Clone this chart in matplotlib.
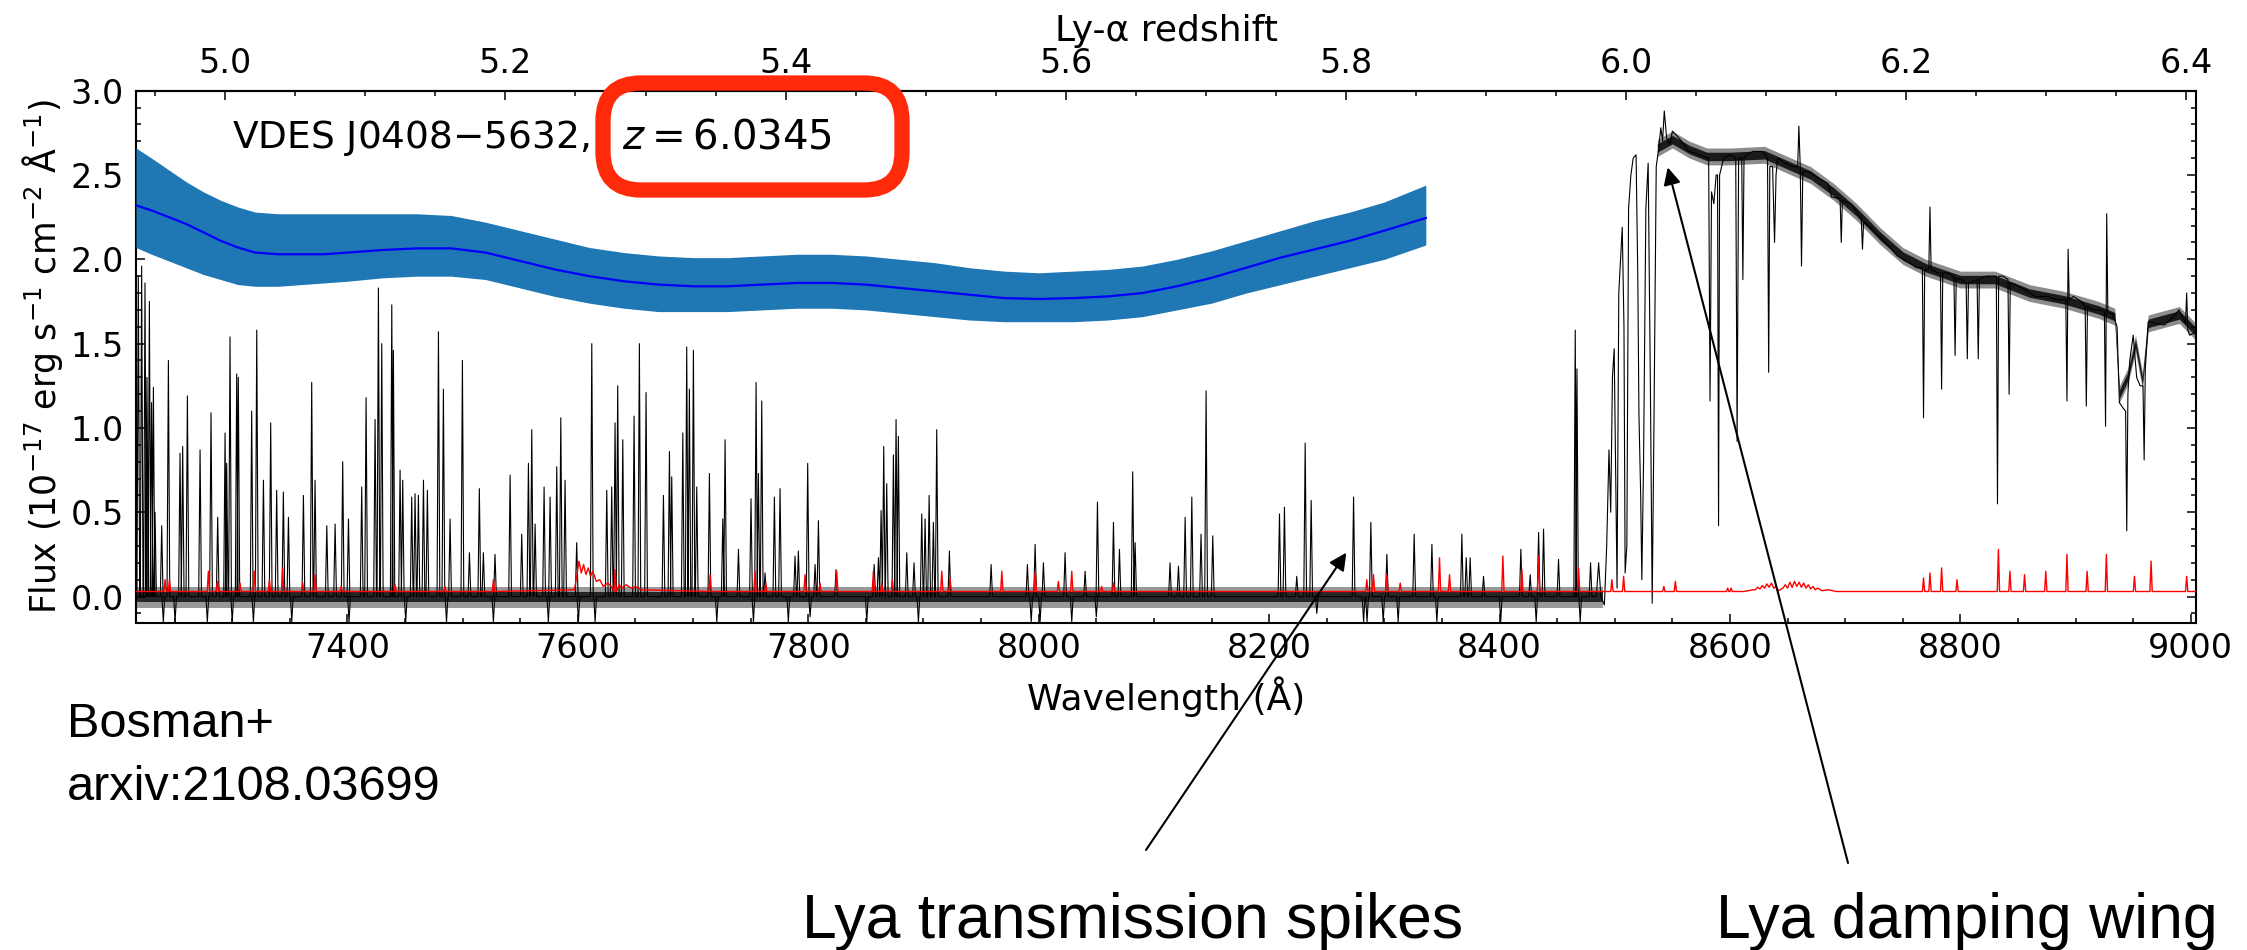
import numpy as np
import matplotlib
matplotlib.use("Agg")
import matplotlib.pyplot as plt
from matplotlib.patches import FancyBboxPatch
from matplotlib.ticker import MultipleLocator, FixedLocator
from matplotlib.transforms import IdentityTransform

LYA = 1215.67

# Ly-alpha forest transmission spikes (wavelength in A, peak flux)
spike_wave = [7218.5, 7221.4, 7224.3, 7226.0, 7228.1, 7230.0, 7231.6, 7233.0, 7238.8, 7244.6,
              7254.7, 7257.0, 7261.1, 7272.1, 7281.6, 7287.4, 7293.8, 7295.2, 7298.1, 7303.9,
              7305.3, 7316.9, 7321.3, 7327.1, 7333.4, 7338.6, 7344.4, 7348.8, 7361.8, 7369.0,
              7371.9, 7382.1, 7389.3, 7395.9, 7400.9, 7412.4, 7416.2, 7424.0, 7426.9, 7429.8,
              7438.5, 7439.9, 7445.7, 7448.0, 7455.8, 7458.7, 7461.6, 7466.0, 7469.4, 7479.0,
              7483.3, 7489.1, 7499.8, 7505.9, 7514.5, 7518.0, 7528.1, 7541.2, 7551.3, 7557.1,
              7560.0, 7562.9, 7570.7, 7575.9, 7581.7, 7585.2, 7588.9, 7599.0, 7612.1, 7625.1,
              7629.4, 7632.3, 7634.6, 7639.0, 7648.8, 7653.4, 7659.2, 7674.3, 7679.5, 7681.5,
              7691.1, 7694.5, 7696.8, 7700.3, 7703.2, 7714.2, 7725.8, 7727.8, 7739.4, 7750.3,
              7754.7, 7756.7, 7759.6, 7762.5, 7770.6, 7775.5, 7788.5, 7791.4, 7799.5, 7805.9,
              7808.8, 7824.1, 7857.2, 7860.9, 7863.2, 7865.5, 7868.1, 7873.9, 7876.2, 7878.2,
              7885.5, 7891.8, 7898.5, 7901.4, 7904.9, 7908.6, 7911.5, 7922.5, 7958.7, 7990.2,
              7996.9, 8004.1, 8022.9, 8040.3, 8051.0, 8064.9, 8070.1, 8081.6, 8083.7, 8114.0,
              8121.3, 8127.1, 8132.9, 8140.9, 8145.3, 8151.1, 8209.0, 8213.3, 8224.0, 8231.3,
              8236.5, 8273.3, 8288.3, 8302.2, 8325.9, 8341.3, 8367.3, 8371.1, 8374.5, 8386.1,
              8418.5, 8426.6, 8433.9, 8438.2, 8451.2, 8465.7, 8467.2, 8479.0]
spike_flux = [1.90, 1.96, 1.86, 1.30, 1.75, 1.15, 1.24, 0.50, 0.42, 1.40,
              0.85, 0.89, 1.19, 0.87, 1.09, 0.47, 0.97, 0.79, 1.54, 1.32,
              1.30, 1.10, 1.58, 0.69, 1.03, 0.63, 0.62, 0.47, 0.60, 1.27,
              0.69, 0.42, 0.43, 0.80, 0.46, 0.65, 1.18, 1.05, 1.83, 1.50,
              1.73, 1.46, 0.75, 0.69, 0.59, 0.61, 0.60, 0.69, 0.63, 1.57,
              1.23, 0.46, 1.40, 0.26, 0.64, 0.26, 0.25, 0.72, 0.37, 0.79,
              0.99, 0.43, 0.65, 0.59, 0.77, 1.06, 0.69, 0.32, 1.50, 0.63,
              0.65, 1.03, 1.25, 0.93, 1.07, 1.50, 1.21, 0.60, 0.86, 0.71,
              0.97, 1.48, 1.23, 1.46, 0.65, 0.73, 0.46, 0.93, 0.28, 0.58,
              1.27, 0.73, 1.16, 0.14, 0.59, 0.64, 0.24, 0.27, 0.79, 0.19,
              0.45, 0.16, 0.19, 0.23, 0.51, 0.89, 0.67, 0.84, 1.05, 0.95,
              0.26, 0.20, 0.49, 0.46, 0.60, 0.44, 0.99, 0.27, 0.19, 0.19,
              0.31, 0.20, 0.26, 0.15, 0.56, 0.44, 0.28, 0.74, 0.32, 0.20,
              0.18, 0.47, 0.59, 0.37, 1.22, 0.36, 0.49, 0.53, 0.12, 0.91,
              0.57, 0.59, 0.44, 0.25, 0.37, 0.31, 0.37, 0.23, 0.23, 0.12,
              0.28, 0.13, 0.38, 0.40, 0.22, 1.58, 1.35, 0.20]

# downward noise excursions in the forest
dip_wave = [7240.2, 7250.4, 7278.4, 7300.0, 7318.4, 7351.7, 7401.4, 7450.6, 7486.0, 7526.7,
            7574.4, 7600.5, 7615.0, 7720.6, 7752.4, 7782.7, 7801.6, 7850.8, 7895.6, 7993.5,
            8001.2, 8028.7, 8050.0, 8241.4, 8282.0, 8285.0, 8299.0, 8312.0, 8345.6, 8401.0,
            8431.8, 8470.0]
dip_flux = [-0.15, -0.15, -0.15, -0.15, -0.15, -0.15, -0.15, -0.15, -0.15, -0.15,
            -0.15, -0.15, -0.15, -0.15, -0.15, -0.15, -0.12, -0.15, -0.15, -0.15,
            -0.15, -0.15, -0.12, -0.10, -0.15, -0.15, -0.15, -0.15, -0.15, -0.15,
            -0.15, -0.15]

# onset of the quasar continuum and the damping-wing region
red_wave = [8484.0, 8486.0, 8488.0, 8491.0, 8493.0, 8495.0, 8496.5, 8498.0, 8499.5, 8501.0,
            8502.0, 8503.5, 8505.0, 8506.5, 8508.0, 8509.0, 8510.5, 8512.0, 8514.0, 8516.0,
            8518.5, 8520.0, 8521.0, 8522.5, 8523.5, 8525.0, 8527.0, 8529.0, 8531.0, 8532.5,
            8534.0, 8536.0, 8538.0, 8540.0, 8541.5, 8543.0, 8545.0, 8548.0, 8550.0, 8553.0,
            8558.0, 8564.0, 8570.0, 8577.0, 8581.5, 8582.7, 8584.0, 8586.0, 8588.0, 8589.2,
            8590.1, 8591.0, 8594.5, 8600.0, 8605.0, 8606.2, 8607.5, 8610.2, 8611.2, 8612.2,
            8614.6, 8620.0, 8628.0, 8632.6, 8633.6, 8634.6, 8637.0, 8638.7, 8640.0, 8641.4,
            8648.0, 8654.8, 8658.8, 8659.8, 8661.0, 8662.1, 8663.2, 8668.0, 8674.8, 8685.0,
            8688.2, 8695.6, 8696.6, 8697.6, 8705.0, 8714.0, 8715.0, 8716.0, 8721.7, 8735.1,
            8745.2, 8755.2, 8762.0, 8767.0, 8768.0, 8769.0, 8772.6, 8773.6, 8774.6, 8780.0,
            8782.7, 8783.7, 8784.7, 8788.0, 8794.4, 8795.4, 8796.4, 8800.0, 8805.0, 8806.0,
            8807.0, 8812.0, 8814.5, 8815.5, 8816.5, 8822.0, 8831.2, 8832.2, 8833.2, 8837.0,
            8841.3, 8842.3, 8843.3, 8848.0, 8855.7, 8865.0, 8875.8, 8883.0, 8891.5, 8892.5,
            8893.5, 8894.5, 8898.0, 8905.0, 8908.3, 8909.3, 8910.3, 8915.0, 8922.0, 8925.0,
            8926.0, 8927.0, 8928.0, 8932.0, 8936.0, 8938.0, 8941.0, 8943.4, 8944.4, 8945.4,
            8947.0, 8950.0, 8953.0, 8956.0, 8958.5, 8959.5, 8960.5, 8963.0, 8970.0, 8977.0,
            8985.0, 8989.7, 8995.4, 8996.4, 8997.4, 8999.0, 9004.5]
red_flux = [0.00, 0.20, 0.00, -0.05, 0.30, 0.87, 0.50, 1.30, 1.47, 0.60,
            0.05, 1.80, 2.00, 2.19, 1.60, 0.14, 0.30, 2.30, 2.50, 2.60,
            2.62, 1.90, 1.08, 0.60, 0.10, 0.80, 2.30, 2.57, 1.20, -0.04,
            1.00, 2.55, 2.65, 2.78, 2.70, 2.88, 2.72, 2.68, 2.76, 2.74,
            2.70, 2.64, 2.63, 2.61, 2.60, 1.16, 2.40, 2.33, 2.50, 2.50,
            0.42, 2.50, 2.60, 2.62, 2.60, 0.92, 2.60, 2.60, 1.88, 2.60,
            2.62, 2.64, 2.64, 2.60, 1.33, 2.55, 2.55, 2.10, 2.50, 2.60,
            2.57, 2.55, 2.55, 2.79, 2.55, 1.96, 2.52, 2.52, 2.49, 2.45,
            2.37, 2.36, 2.10, 2.35, 2.33, 2.24, 2.06, 2.22, 2.19, 2.10,
            2.02, 1.98, 1.95, 1.95, 1.06, 1.94, 1.94, 2.31, 1.94, 1.92,
            1.92, 1.23, 1.92, 1.92, 1.90, 1.43, 1.89, 1.88, 1.86, 1.41,
            1.86, 1.87, 1.88, 1.41, 1.88, 1.90, 1.90, 0.55, 1.90, 1.90,
            1.88, 1.20, 1.86, 1.85, 1.82, 1.78, 1.78, 1.76, 1.76, 1.16,
            2.06, 1.76, 1.78, 1.75, 1.72, 1.13, 1.72, 1.70, 1.70, 1.69,
            1.01, 2.27, 1.68, 1.68, 1.60, 1.15, 1.12, 1.10, 0.39, 1.20,
            1.40, 1.55, 1.30, 1.25, 1.25, 0.81, 1.35, 1.63, 1.62, 1.61,
            1.66, 1.70, 1.62, 1.80, 1.58, 1.55, 1.57]

# slowly varying continuum level, used for the noise envelope
trend_wave = [8537.0, 8550.0, 8565.0, 8580.0, 8600.0, 8630.0, 8650.0, 8670.0, 8690.0, 8710.0,
              8730.0, 8750.0, 8770.0, 8800.0, 8830.0, 8860.0, 8890.0, 8920.0, 8934.0, 8938.0,
              8945.0, 8952.0, 8958.0, 8963.0, 8990.0, 9004.5]
trend_flux = [2.66, 2.71, 2.65, 2.61, 2.61, 2.62, 2.56, 2.50, 2.40, 2.28,
              2.14, 2.02, 1.95, 1.88, 1.88, 1.80, 1.76, 1.70, 1.66, 1.20,
              1.30, 1.50, 1.28, 1.62, 1.67, 1.57]

# 1-sigma error spectrum: sky-line residual spikes on a flat floor
err_floor = 0.03
err_spike_wave = [7241.7, 7245.5, 7279.3, 7287.1, 7306.8, 7319.2, 7332.3, 7343.8, 7361.2, 7371.9,
                  7394.5, 7441.4, 7484.7, 7526.7, 7632.3, 7714.8, 7753.8, 7763.1, 7797.2, 7810.2,
                  7824.7, 7856.5, 7863.8, 7873.0, 7915.9, 7923.1, 7968.0, 7997.0, 8017.1, 8028.7,
                  8054.7, 8064.9, 8284.8, 8290.6, 8302.2, 8313.8, 8347.9, 8356.6, 8402.9, 8419.4,
                  8433.9, 8468.6, 8497.5, 8507.7, 8542.6, 8552.6, 8598.0, 8601.0, 8768.0, 8773.6,
                  8783.7, 8797.1, 8833.0, 8843.0, 8855.7, 8874.1, 8892.5, 8910.0, 8926.7, 8951.1,
                  8965.5, 8996.4]
err_spike_flux = [0.10, 0.10, 0.15, 0.09, 0.08, 0.15, 0.10, 0.17, 0.08, 0.13,
                  0.06, 0.07, 0.06, 0.10, 0.16, 0.13, 0.15, 0.08, 0.13, 0.08,
                  0.15, 0.15, 0.08, 0.10, 0.15, 0.11, 0.15, 0.15, 0.09, 0.15,
                  0.06, 0.08, 0.10, 0.13, 0.13, 0.08, 0.23, 0.13, 0.24, 0.16,
                  0.24, 0.17, 0.10, 0.12, 0.06, 0.09, 0.05, 0.05, 0.11, 0.14,
                  0.17, 0.10, 0.28, 0.15, 0.13, 0.15, 0.25, 0.15, 0.25, 0.12,
                  0.21, 0.12]
# telluric A-band residuals
aband_wave = [7597.0, 7599.0, 7601.0, 7603.0, 7605.0, 7607.0, 7609.0, 7611.0, 7613.0, 7616.0,
              7619.0, 7622.0, 7626.0, 7629.0, 7636.0, 7638.0, 7642.0, 7646.0, 7650.0, 7655.0]
aband_flux = [0.04, 0.12, 0.21, 0.14, 0.19, 0.13, 0.17, 0.12, 0.15, 0.09,
              0.10, 0.06, 0.08, 0.06, 0.07, 0.05, 0.07, 0.05, 0.06, 0.04]
# ripple feature near 8650 A
ripple_wave = [8612.0, 8620.0, 8622.0, 8624.0, 8626.0, 8628.0, 8630.0, 8632.0, 8634.0, 8636.0,
               8638.0, 8640.0, 8642.0, 8646.0, 8648.0, 8650.0, 8652.0, 8654.0, 8656.0, 8658.0,
               8660.0, 8662.0, 8664.0, 8666.0, 8668.0, 8670.0, 8672.0, 8674.0, 8676.0, 8680.0,
               8686.0, 8692.0]
ripple_flux = [0.03, 0.04, 0.04, 0.055, 0.045, 0.065, 0.05, 0.075, 0.055, 0.08,
               0.05, 0.06, 0.035, 0.05, 0.07, 0.05, 0.085, 0.055, 0.09, 0.06,
               0.085, 0.055, 0.08, 0.05, 0.07, 0.045, 0.06, 0.04, 0.05, 0.035,
               0.04, 0.03]

# predicted intrinsic continuum and its uncertainty
band_wave = [7216.5, 7230, 7245, 7260, 7275, 7290, 7305, 7320, 7340, 7360,
             7380, 7400, 7430, 7460, 7490, 7520, 7550, 7580, 7610, 7640,
             7670, 7700, 7730, 7760, 7790, 7820, 7850, 7880, 7910, 7940,
             7970, 8000, 8030, 8060, 8090, 8120, 8150, 8180, 8210, 8240,
             8270, 8300, 8336]
band_mid = [2.32, 2.29, 2.25, 2.21, 2.16, 2.11, 2.07, 2.04, 2.03, 2.03,
            2.03, 2.04, 2.055, 2.065, 2.065, 2.04, 1.99, 1.94, 1.90, 1.87,
            1.85, 1.84, 1.84, 1.85, 1.86, 1.86, 1.85, 1.83, 1.81, 1.79,
            1.77, 1.765, 1.77, 1.78, 1.80, 1.84, 1.89, 1.95, 2.01, 2.06,
            2.11, 2.17, 2.245]
band_hi = [2.66, 2.60, 2.53, 2.46, 2.40, 2.35, 2.31, 2.28, 2.27, 2.27,
           2.27, 2.27, 2.27, 2.27, 2.26, 2.22, 2.17, 2.12, 2.07, 2.04,
           2.02, 2.01, 2.01, 2.02, 2.03, 2.03, 2.02, 2.00, 1.98, 1.95,
           1.93, 1.92, 1.93, 1.94, 1.96, 2.00, 2.05, 2.11, 2.17, 2.23,
           2.28, 2.34, 2.44]
band_lo = [2.07, 2.03, 1.99, 1.95, 1.91, 1.88, 1.85, 1.84, 1.84, 1.85,
           1.86, 1.87, 1.89, 1.90, 1.90, 1.88, 1.83, 1.78, 1.74, 1.71,
           1.69, 1.69, 1.69, 1.70, 1.71, 1.71, 1.70, 1.68, 1.66, 1.64,
           1.63, 1.63, 1.63, 1.64, 1.66, 1.70, 1.74, 1.80, 1.85, 1.90,
           1.95, 2.00, 2.085]

redshift_ticks = [5.0, 5.2, 5.4, 5.6, 5.8, 6.0, 6.2, 6.4]
redshift_minor = [4.95, 5.05, 5.1, 5.15, 5.25, 5.3, 5.35, 5.45, 5.5, 5.55, 5.65, 5.7, 5.75,
                  5.85, 5.9, 5.95, 6.05, 6.1, 6.15, 6.25, 6.3, 6.35]

wmin, wmax = 7216.5, 9004.5


def spike_path(centres, heights, base, start, stop, half=1.2):
    """Polyline with narrow triangular features on a flat level."""
    pts = [(start, base)]
    for w, h in sorted(zip(centres, heights)):
        pts += [(w - half, base), (w, h), (w + half, base)]
    pts.append((stop, base))
    return [p[0] for p in pts], [p[1] for p in pts]


# observed flux: forest part built from spikes, then the continuum vertices
fx, fy = spike_path(spike_wave + dip_wave, spike_flux + dip_flux, 0.0, wmin, red_wave[0] - 0.5)
flux_wave = np.array(fx + red_wave)
flux_vals = np.array(fy + red_flux)

# error spectrum
ex, ey = spike_path(err_spike_wave, err_spike_flux, err_floor, wmin, wmax, half=1.0)
err_pts = sorted(list(zip(ex, ey)) + list(zip(aband_wave, aband_flux)) + list(zip(ripple_wave, ripple_flux)))
err_wave = np.array([p[0] for p in err_pts])
err_vals = np.array([p[1] for p in err_pts])

plt.rcParams['font.family'] = ['DejaVu Sans']
plt.rcParams['mathtext.fontset'] = 'dejavusans'

fig = plt.figure(figsize=(22.47, 9.5), dpi=100)
ax = fig.add_axes([0.06053, 0.34453, 0.91677, 0.56])

# noise texture around zero in the forest and around the continuum
ax.fill_between([wmin, 8490.0], -0.07, 0.055, color='0.6', lw=0, zorder=1)
ax.fill_between([wmin, 8490.0], -0.035, 0.025, color='0.15', lw=0, zorder=1)
tw = np.array(trend_wave)
tf = np.array(trend_flux)
ax.fill_between(tw, tf - 0.05, tf + 0.05, color='0.55', lw=0, zorder=1)
ax.fill_between(tw, tf - 0.025, tf + 0.025, color='0.1', lw=0, zorder=1)

ax.plot(flux_wave, flux_vals, color='k', lw=0.8, zorder=2)
ax.plot(err_wave, err_vals, color='r', lw=1.0, zorder=3)

ax.fill_between(band_wave, band_lo, band_hi, color='#1f77b4', lw=0, zorder=4)
ax.plot(band_wave, band_mid, color='b', lw=1.6, zorder=5)

ax.set_xlim(wmin, wmax)
ax.set_ylim(-0.155, 3.0)
ax.xaxis.set_major_locator(MultipleLocator(200))
ax.xaxis.set_minor_locator(MultipleLocator(50))
ax.yaxis.set_major_locator(MultipleLocator(0.5))
ax.yaxis.set_minor_locator(MultipleLocator(0.1))
ax.tick_params(which='both', direction='in', top=False, right=True, labelsize=24, width=1.1)
ax.tick_params(which='major', length=6.5)
ax.tick_params(which='minor', length=3.5)
ax.tick_params(axis='x', pad=7)
ax.tick_params(axis='y', pad=9)
for sp in ax.spines.values():
    sp.set_linewidth(1.5)

ax.set_xlabel('Wavelength (Å)', fontsize=26, labelpad=8)
ax.set_ylabel(r'Flux (10$^{-17}$ erg s$^{-1}$ cm$^{-2}$ Å$^{-1}$)', fontsize=25, labelpad=4)

sec = ax.secondary_xaxis('top', functions=(lambda w: w / LYA - 1.0, lambda z: (z + 1.0) * LYA))
sec.xaxis.set_major_locator(FixedLocator(redshift_ticks))
sec.xaxis.set_minor_locator(FixedLocator(redshift_minor))
sec.tick_params(which='both', direction='in', labelsize=24, width=1.1, pad=8)
sec.tick_params(which='major', length=6.5)
sec.tick_params(which='minor', length=3.5)
sec.spines['top'].set_linewidth(1.5)
sec.set_xlabel('Ly-α redshift', fontsize=26, labelpad=4)

ax.text(7300, 2.66, 'VDES J0408$-$5632,', fontsize=27, ha='left', va='baseline', zorder=6)
ax.text(7638, 2.66, '$z=6.0345$', fontsize=29, ha='left', va='baseline', zorder=6)

# hand-drawn style highlight around the redshift
fig.add_artist(FancyBboxPatch((603, 760), 299, 107, boxstyle='round,pad=0,rounding_size=38',
                              transform=IdentityTransform(), fill=False, ec='#ff2a0a', lw=11, zorder=10))

arrow_kw = dict(arrowstyle='-|>', color='k', lw=1.5, mutation_scale=26, shrinkA=0, shrinkB=0)
ax.annotate('', xy=(8267, 0.26), xycoords='data', xytext=(1146, 100), textcoords='figure pixels',
            arrowprops=arrow_kw, annotation_clip=False)
ax.annotate('', xy=(8546, 2.545), xycoords='data', xytext=(1848, 87), textcoords='figure pixels',
            arrowprops=arrow_kw, annotation_clip=False)

note_font = dict(family=['Liberation Sans', 'DejaVu Sans'], color='k')
fig.text(802 / 2247, 12 / 950, 'Lya transmission spikes', fontsize=45, va='baseline', ha='left', **note_font)
fig.text(1716 / 2247, 12 / 950, 'Lya damping wing', fontsize=45, va='baseline', ha='left', **note_font)
fig.text(67 / 2247, 213 / 950, 'Bosman+', fontsize=35, va='baseline', ha='left', **note_font)
fig.text(67 / 2247, 150 / 950, 'arxiv:2108.03699', fontsize=35, va='baseline', ha='left', **note_font)

fig.savefig('out.png', dpi=100)
